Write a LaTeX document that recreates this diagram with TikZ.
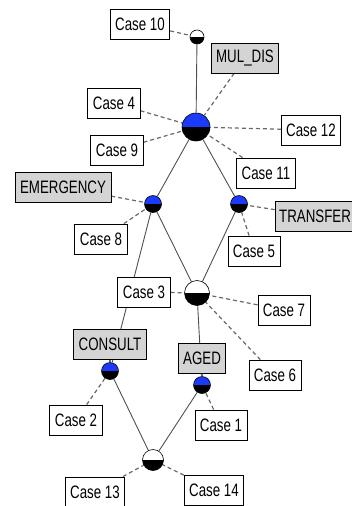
\documentclass[tikz,border=0pt]{standalone}
\usepackage{fontspec}
\setmainfont{Liberation Sans}[FakeStretch=0.74]
\usepackage{tikz}
\usetikzlibrary{arrows,calc,positioning,backgrounds}
\definecolor{attrgray}{RGB}{212,212,212}
\definecolor{conblue}{RGB}{28,58,250}
\definecolor{edgegray}{RGB}{80,80,80}
\definecolor{dashgray}{RGB}{105,105,105}
\tikzset{
  obj/.style={draw=black, fill=white, line width=0.8pt, minimum height=30pt, inner xsep=5pt, inner ysep=0pt, font=\fontsize{18}{20}\selectfont},
  attr/.style={obj, fill=attrgray},
  concept/.style={circle, draw=black, line width=0.6pt, inner sep=0pt, minimum size=#1},
  tophalf/.style={path picture={
      \fill[#1] (path picture bounding box.north west) rectangle (path picture bounding box.east);
      \fill[black] (path picture bounding box.west) rectangle (path picture bounding box.south east);}},
  edge/.style={draw=edgegray, line width=0.9pt},
  link/.style={draw=dashgray, line width=1.2pt, dash pattern=on 4pt off 3pt},
}
\begin{document}
\begin{tikzpicture}[x=1pt,y=-1pt]
			\useasboundingbox (0,0) rectangle (352,506);
			\node[concept=14pt, tophalf=white] (k10) at (197,37) {};
			\node[concept=28pt, tophalf=conblue] (ktop) at (196,127) {};
			\node[concept=17pt, tophalf=conblue] (kem) at (153,204) {};
			\node[concept=17pt, tophalf=conblue] (ktr) at (239,204) {};
			\node[concept=25pt, tophalf=white] (kmid) at (197,293) {};
			\node[concept=17pt, tophalf=conblue] (kcons) at (110,371) {};
			\node[concept=17pt, tophalf=conblue] (kaged) at (202,385) {};
			\node[concept=21pt, tophalf=white] (kbot) at (153,460) {};
			\node[obj] (c10) at (140,24) {Case 10};
			\node[attr] (mul) at (245,58) {MUL\_DIS};
			\node[obj] (c4) at (114,103) {Case 4};
			\node[obj] (c12) at (311,130) {Case 12};
			\node[obj] (c9) at (117,150) {Case 9};
			\node[obj] (c11) at (266,173) {Case 11};
			\node[attr] (emer) at (63,187) {EMERGENCY};
			\node[attr, inner xsep=4pt] (trans) at (315,216) {TRANSFER};
			\node[obj] (c8) at (101,239) {Case 8};
			\node[obj] (c5) at (254,251) {Case 5};
			\node[obj] (c3) at (144,292) {Case 3};
			\node[obj] (c7) at (284,310) {Case 7};
			\node[attr] (cons) at (110,344) {CONSULT};
			\node[attr] (aged) at (202,358) {AGED};
			\node[obj] (c6) at (275,375) {Case 6};
			\node[obj] (c2) at (76,420) {Case 2};
			\node[obj] (c1) at (221,425) {Case 1};
			\node[obj] (c13) at (95,492) {Case 13};
			\node[obj] (c14) at (214,490) {Case 14};
			\begin{scope}[on background layer]
			\draw[edge] (k10) to (ktop);
			\draw[edge] (ktop) to (kem);
			\draw[edge] (ktop) to (ktr);
			\draw[edge] (kem) to (kmid);
			\draw[edge] (ktr) to (kmid);
			\draw[edge] (kem) to (kcons);
			\draw[edge] (kmid) to (kaged);
			\draw[edge] (kcons) to (kbot);
			\draw[edge] (kaged) to (kbot);
			\draw[link] (c10) to (k10);
			\draw[link] (mul) to (ktop);
			\draw[link] (c4) to (ktop);
			\draw[link] (c9) to (ktop);
			\draw[link] (c12) to (ktop);
			\draw[link] (c11) to (ktop);
			\draw[link] (emer) to (kem);
			\draw[link] (c8) to (kem);
			\draw[link] (trans) to (ktr);
			\draw[link] (c5) to (ktr);
			\draw[link] (c3) to (kmid);
			\draw[link] (c7) to (kmid);
			\draw[link] (c6) to (kmid);
			\draw[link] (cons) to (kcons);
			\draw[link] (c2) to (kcons);
			\draw[link] (aged) to (kaged);
			\draw[link] (c1) to (kaged);
			\draw[link] (c13) to (kbot);
			\draw[link] (c14) to (kbot);
			\end{scope}
\end{tikzpicture}
\end{document}
